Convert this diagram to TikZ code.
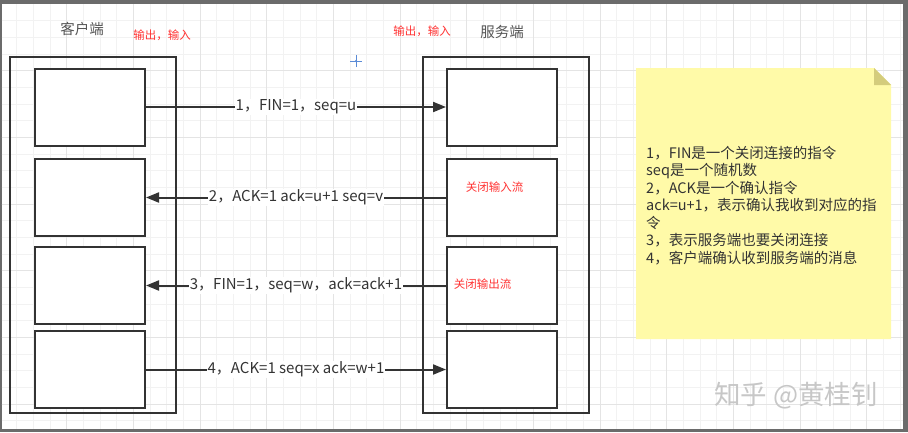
\documentclass[tikz,border=0pt]{standalone}
\usepackage{fontspec}
\setmainfont{Noto Sans CJK SC}
\usetikzlibrary{positioning,arrows.meta}

\definecolor{framegray}{HTML}{6B6B6B}
\definecolor{gridminor}{HTML}{F2F2F2}
\definecolor{gridmajor}{HTML}{E4E4E4}
\definecolor{linegray}{HTML}{333333}
\definecolor{textgray}{HTML}{555555}
\definecolor{notered}{HTML}{FF3333}
\definecolor{noteyellow}{HTML}{FFFAA8}
\definecolor{notefold}{HTML}{D4CC7C}
\definecolor{crossblue}{HTML}{5B8BD6}

\tikzset{
  box/.style={draw=linegray, line width=2pt, fill=white, minimum width=110pt, minimum height=77pt, inner sep=0pt},
  outerbox/.style={draw=linegray, line width=2pt, minimum width=166pt, minimum height=356pt, inner sep=0pt},
  msg/.style={draw=linegray, line width=2pt, -{Triangle[length=13pt,width=10pt]}},
  lbl/.style={fill=white, inner sep=1pt, text=linegray, font=\fontsize{15}{17}\selectfont},
  title/.style={text=textgray, font=\fontsize{14.5}{16}\selectfont},
  redlbl/.style={text=notered, font=\fontsize{11.5}{13}\selectfont, inner sep=0pt},
}

\begin{document}
\begin{tikzpicture}[x=1pt, y=-1pt]

% frame and grid
\fill [framegray] (0,0) rectangle (908,432);
\fill [white] (1.5,4) rectangle (903,429);
\foreach \i in {1,...,54} {
  \draw [gridminor, line width=0.6pt] ({\i*16.667},4) -- ({\i*16.667},429);
}
\foreach \j in {1,...,25} {
  \draw [gridminor, line width=0.6pt] (1.5,{4+\j*16.667}) -- (903,{4+\j*16.667});
}
\foreach \i in {1,...,13} {
  \draw [gridmajor, line width=0.7pt] ({\i*66.667},4) -- ({\i*66.667},429);
}
\foreach \j in {1,...,6} {
  \draw [gridmajor, line width=0.7pt] (1.5,{4+\j*66.667}) -- (903,{4+\j*66.667});
}

% client and server
\node [outerbox] (client) at (93,235) {};
\node [outerbox] (server) at (506,235) {};

\node [box] (c1) at (90,107) {};
\node [box] (c2) at (90,197.5) {};
\node [box] (c3) at (90,285.5) {};
\node [box] (c4) at (90,369.5) {};

\node [box] (s1) at (502,107) {};
\node [box] (s2) at (502,197.5) {};
\node [box] (s3) at (502,285.5) {};
\node [box] (s4) at (502,369.5) {};

\node [title] (client_t) at (82,29) {客户端};
\node [title] (server_t) at (502,32) {服务端};
\node [redlbl] (client_io) at (162,35) {输出，输入};
\node [redlbl] (server_io) at (422,31) {输出，输入};
\node [redlbl] (close_in) at (494.5,187) {关闭输入流};
\node [redlbl] (close_out) at (482.5,284) {关闭输出流};

% messages
\draw [msg] (c1.east) -- node [lbl] {1，FIN=1，seq=u} (s1.west);
\draw [msg] (s2.west) -- node [lbl] {2，ACK=1 ack=u+1 seq=v} (c2.east);
\draw [msg] (s3.west) -- node [lbl] {3，FIN=1，seq=w，ack=ack+1} (c3.east);
\draw [msg] (c4.east) -- node [lbl] {4，ACK=1 seq=x ack=w+1} (s4.west);

% note
\fill [noteyellow] (636,68) -- (874,68) -- (891,85) -- (891,339) -- (636,339) -- cycle;
\fill [notefold] (874,68) -- (874,85) -- (891,85) -- cycle;
\node [anchor=north west, align=left, inner sep=0pt, text=linegray,
       font=\fontsize{14.5}{17.5}\selectfont] (note) at (646,146)
  {1，FIN是一个关闭连接的指令\\
   seq是一个随机数\\
   2，ACK是一个确认指令\\
   ack=u+1，表示确认我收到对应的指\\
   令\\
   3，表示服务端也要关闭连接\\
   4，客户端确认收到服务端的消息};

% cursor mark
\coordinate (cursor) at (356,61);
\draw [crossblue, line width=0.6pt] ([xshift=-6pt]cursor) -- ([xshift=6pt]cursor);
\draw [crossblue, line width=0.6pt] ([yshift=-6pt]cursor) -- ([yshift=6pt]cursor);
\fill [crossblue] (cursor) circle (1.2pt);

% watermark
\node [text=black!22, font=\fontsize{26.5}{28}\selectfont] (mark) at (796,396) {知乎 @黄桂钊};

\end{tikzpicture}
\end{document}
